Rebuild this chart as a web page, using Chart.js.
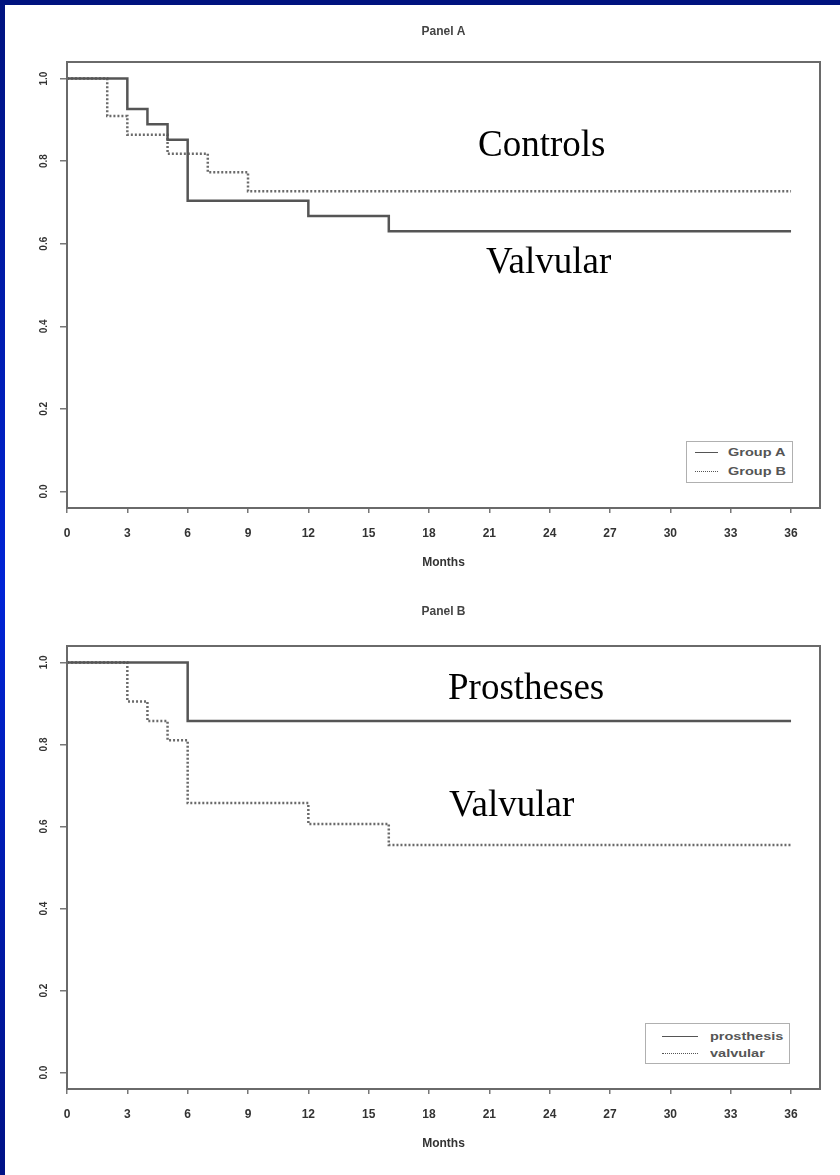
<!DOCTYPE html>
<html>
<head>
<meta charset="utf-8">
<script src="https://cdn.jsdelivr.net/npm/chart.js@4.4.1/dist/chart.umd.min.js"></script>
<style>
html,body{margin:0;padding:0;background:#fff;}
body{width:840px;height:1175px;position:relative;overflow:hidden;}
#wrapA{position:absolute;left:0;top:0;width:840px;height:584px;}
#wrapB{position:absolute;left:0;top:584px;width:840px;height:591px;}
.bl{position:absolute;left:0;top:0;width:5px;height:1175px;background:linear-gradient(#00137f,#0024d6 50%,#001286);z-index:5;}
.bt{position:absolute;left:0;top:0;width:840px;height:5px;background:#00137f;z-index:5;}
.ann{position:absolute;font-family:"Liberation Serif","Times New Roman",serif;font-size:37px;line-height:1;color:#000;white-space:nowrap;z-index:3;}
.leg{position:absolute;border:1px solid #b0b0b0;background:#fff;z-index:3;box-sizing:border-box;}
.lrow{position:absolute;left:0;height:0;}
.lline{position:absolute;top:-1px;height:0;border-top-width:1.5px;border-top-color:#555;}
.ltxt{position:absolute;top:-7px;font-family:"Liberation Sans",Arial,sans-serif;font-weight:bold;font-size:10px;line-height:14px;color:#555;white-space:nowrap;transform:scaleX(1.45);transform-origin:0 50%;}
</style>
</head>
<body>
<div class="bt"></div>
<div class="bl"></div>
<div id="wrapA"><canvas id="cA" width="840" height="584"></canvas></div>
<div id="wrapB"><canvas id="cB" width="840" height="591"></canvas></div>
<div class="ann" style="left:478px;top:125px;">Controls</div>
<div class="ann" style="left:486px;top:242px;">Valvular</div>
<div class="ann" style="left:448px;top:668px;">Prostheses</div>
<div class="ann" style="left:449px;top:785px;">Valvular</div>
<div class="leg" id="legA" style="left:686px;top:441px;width:107px;height:42px;"></div>
<div class="leg" id="legB" style="left:645px;top:1023px;width:145px;height:41px;"></div>
<script>
// ---------- data ----------
const monthTicks = [0, 3, 6, 9, 12, 15, 18, 21, 24, 27, 30, 33, 36];
const survivalTicks = [0.0, 0.2, 0.4, 0.6, 0.8, 1.0];

const panelATitle = 'Panel A';
const panelALabels = ['Group A', 'Group B'];
const groupAMonths = [0, 3, 4, 5, 6, 12, 16, 36];
const groupASurv   = [1.0, 0.926, 0.889, 0.852, 0.704, 0.667, 0.630, 0.630];
const groupBMonths = [0, 2, 3, 5, 7, 9, 36];
const groupBSurv   = [1.0, 0.909, 0.864, 0.818, 0.773, 0.727, 0.727];

const panelBTitle = 'Panel B';
const panelBLabels = ['prosthesis', 'valvular'];
const prosthesisMonths = [0, 6, 36];
const prosthesisSurv   = [1.0, 0.857, 0.857];
const valvularMonths = [0, 3, 4, 5, 6, 12, 16, 36];
const valvularSurv   = [1.0, 0.905, 0.857, 0.810, 0.657, 0.606, 0.555, 0.555];

const xLabel = 'Months';

// ---------- helpers ----------
function toPoints(xs, ys) { return xs.map((x, i) => ({ x: x, y: ys[i] })); }

const SANS = '"Liberation Sans", Arial, sans-serif';
const SOLID = [];
const DOTTED = [2, 2];

function stepSet(label, xs, ys, dash) {
  return {
    label: label,
    data: toPoints(xs, ys),
    stepped: true,
    borderColor: dash.length ? '#6a6a6a' : '#555555',
    borderWidth: 2.5,
    borderDash: dash,
    pointRadius: 0,
    fill: false,
    tension: 0
  };
}

const framePlugin = {
  id: 'frame',
  afterDraw(chart) {
    const a = chart.chartArea, ctx = chart.ctx;
    ctx.save();
    ctx.strokeStyle = '#6a6a6a';
    ctx.lineWidth = 2;
    ctx.strokeRect(a.left, a.top, a.right - a.left, a.bottom - a.top);
    ctx.restore();
  }
};

function makePanel(canvasId, title, datasets, geo) {
  return new Chart(document.getElementById(canvasId), {
    type: 'line',
    data: { datasets: datasets },
    options: {
      responsive: false,
      animation: false,
      layout: { padding: { left: 0, right: 20, top: 0, bottom: 0 } },
      plugins: {
        legend: { display: false },
        tooltip: { enabled: false },
        title: {
          display: true, text: title, fullSize: false, color: '#444',
          font: { family: SANS, size: 12, weight: 'bold' },
          padding: { top: geo.tTop, bottom: geo.tBot }
        }
      },
      scales: {
        x: {
          type: 'linear', min: 0, max: 37.44,
          afterBuildTicks: s => { s.ticks = monthTicks.map(v => ({ value: v })); },
          afterFit: s => { s.height = geo.xh; },
          grid: { drawOnChartArea: false, drawTicks: true, tickLength: 5, color: '#777', lineWidth: 1.5 },
          border: { display: true, color: '#6a6a6a', width: 2 },
          ticks: { font: { family: SANS, size: 12, weight: 'bold' }, color: '#333', padding: 13, maxRotation: 0, autoSkip: false },
          title: { display: true, text: xLabel, color: '#333', font: { family: SANS, size: 12, weight: 'bold' }, padding: { top: 0, bottom: geo.mBot } }
        },
        y: {
          type: 'linear', min: -0.04, max: 1.04,
          afterBuildTicks: s => { s.ticks = survivalTicks.map(v => ({ value: v })); },
          afterFit: s => { s.width = 67; },
          grid: { drawOnChartArea: false, drawTicks: true, tickLength: 7, color: '#777', lineWidth: 1.5 },
          border: { display: true, color: '#6a6a6a', width: 2 },
          ticks: { font: { family: SANS, size: 10, weight: 'bold' }, color: '#333', padding: 9, minRotation: 90, maxRotation: 90, crossAlign: 'center', autoSkip: false,
                   callback: v => Number(v).toFixed(1) }
        }
      }
    },
    plugins: [framePlugin]
  });
}

makePanel('cA', panelATitle, [
  stepSet(panelALabels[0], groupAMonths, groupASurv, SOLID),
  stepSet(panelALabels[1], groupBMonths, groupBSurv, DOTTED)
], { tTop: 24.8, tBot: 22.8, xh: 76, mBot: 14 });

makePanel('cB', panelBTitle, [
  stepSet(panelBLabels[0], prosthesisMonths, prosthesisSurv, SOLID),
  stepSet(panelBLabels[1], valvularMonths, valvularSurv, DOTTED)
], { tTop: 20.8, tBot: 26.8, xh: 86, mBot: 24 });

// ---------- legends ----------
function buildLegend(id, labels, styles, rowTops, lineL, lineW, textL) {
  const box = document.getElementById(id);
  labels.forEach((lab, i) => {
    const row = document.createElement('div');
    row.className = 'lrow';
    row.style.top = rowTops[i] + 'px';
    const ln = document.createElement('div');
    ln.className = 'lline';
    ln.style.left = lineL + 'px';
    ln.style.width = lineW + 'px';
    ln.style.borderTopStyle = styles[i];
    const tx = document.createElement('div');
    tx.className = 'ltxt';
    tx.style.left = textL + 'px';
    tx.textContent = lab;
    row.appendChild(ln); row.appendChild(tx);
    box.appendChild(row);
  });
}
buildLegend('legA', panelALabels, ['solid', 'dotted'], [11, 30], 8, 23, 41);
buildLegend('legB', panelBLabels, ['solid', 'dotted'], [13, 30], 16, 36, 64);
</script>
</body>
</html>
